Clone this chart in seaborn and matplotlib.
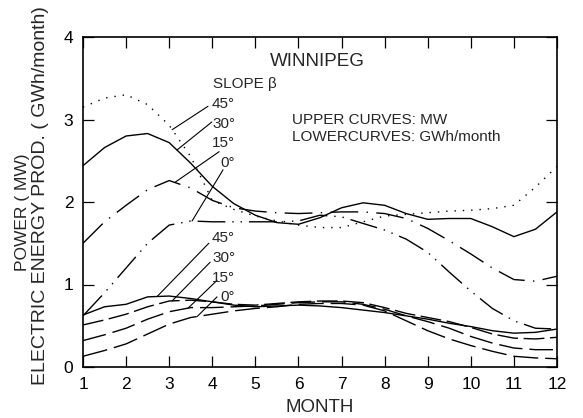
import numpy as np
import pandas as pd
import matplotlib
matplotlib.use("Agg")
import matplotlib.pyplot as plt
import seaborn as sns

# ---- data ----
months = [1, 1.5, 2, 2.5, 3, 3.5, 4, 4.5, 5, 5.5, 6, 6.5, 7, 7.5, 8, 8.5,
          9, 9.5, 10, 10.5, 11, 11.5, 12]

# upper curves: power (MW)
up45 = [3.15, 3.26, 3.30, 3.18, 2.93, 2.55, 2.02, 1.91, 1.83, 1.77, 1.72, 1.69,
        1.69, 1.76, 1.83, 1.85, 1.87, 1.89, 1.90, 1.92, 1.96, 2.18, 2.43]
up30 = [2.44, 2.66, 2.80, 2.83, 2.72, 2.47, 2.19, 1.98, 1.84, 1.75, 1.73, 1.81,
        1.93, 1.99, 1.96, 1.86, 1.79, 1.80, 1.80, 1.70, 1.58, 1.67, 1.88]
up15 = [1.50, 1.76, 1.96, 2.15, 2.26, 2.17, 2.02, 1.93, 1.89, 1.87, 1.86, 1.87,
        1.88, 1.88, 1.86, 1.80, 1.68, 1.53, 1.37, 1.20, 1.06, 1.04, 1.10]
up0 = [0.62, 0.90, 1.20, 1.50, 1.72, 1.77, 1.76, 1.76, 1.76, 1.76, 1.77, 1.84,
       1.82, 1.74, 1.66, 1.55, 1.39, 1.15, 0.92, 0.71, 0.56, 0.47, 0.46]

# lower curves: energy production (GWh/month)
low45 = [0.63, 0.73, 0.76, 0.85, 0.86, 0.83, 0.79, 0.75, 0.73, 0.74, 0.75, 0.74,
         0.72, 0.69, 0.66, 0.62, 0.58, 0.53, 0.49, 0.44, 0.41, 0.42, 0.46]
low30 = [0.51, 0.57, 0.64, 0.73, 0.80, 0.81, 0.79, 0.76, 0.75, 0.77, 0.79, 0.80,
         0.80, 0.78, 0.72, 0.65, 0.60, 0.55, 0.48, 0.40, 0.35, 0.34, 0.36]
low15 = [0.32, 0.39, 0.47, 0.58, 0.67, 0.72, 0.72, 0.73, 0.74, 0.76, 0.78, 0.79,
         0.79, 0.76, 0.70, 0.62, 0.55, 0.47, 0.37, 0.29, 0.23, 0.21, 0.21]
low0 = [0.13, 0.20, 0.28, 0.40, 0.52, 0.60, 0.64, 0.68, 0.71, 0.73, 0.76, 0.77,
        0.77, 0.75, 0.68, 0.56, 0.44, 0.34, 0.26, 0.19, 0.13, 0.11, 0.10]

slopes = ["45°", "30°", "15°", "0°"]
x_ticks = [1, 2, 3, 4, 5, 6, 7, 8, 9, 10, 11, 12]
y_ticks = [0, 1, 2, 3, 4]

series = {
    "up45": up45, "up30": up30, "up15": up15, "up0": up0,
    "low45": low45, "low30": low30, "low15": low15, "low0": low0,
}

# label positions (data coords) and where leader lines meet the curves (month)
upper_label_y = [3.19, 2.95, 2.71, 2.47]
lower_label_y = [1.56, 1.32, 1.08, 0.85]
upper_leader_from = [(3.90, 3.16), (3.99, 2.97), (4.16, 2.61), (4.25, 2.39)]
upper_leader_to_month = [3.07, 3.18, 3.13, 3.53]
lower_leader_from = [(3.92, 1.50), (3.95, 1.27), (4.11, 1.05), (4.11, 0.85)]
lower_leader_to_month = [2.72, 3.07, 3.44, 3.65]

# ---- long format table ----
rows = []
for name, vals in series.items():
    for m, v in zip(months, vals):
        rows.append({"month": m, "value": v, "curve": name})
df = pd.DataFrame(rows)

dashes = {
    "up45": (1, 5),
    "up30": "",
    "up15": (20, 6, 1, 6),
    "up0": (20, 5, 1, 5, 1, 5),
    "low45": "",
    "low30": (15, 4),
    "low15": (17, 5),
    "low0": (18, 5),
}

sns.set_style("ticks")
plt.rcParams["font.family"] = ["Liberation Sans", "DejaVu Sans"]

W, H = 583, 418
fig = plt.figure(figsize=(W / 100, H / 100), dpi=100)
ax = fig.add_axes([83 / W, 51 / H, 474 / W, 330 / H])

sns.lineplot(data=df, x="month", y="value", style="curve", dashes=dashes,
             color="black", linewidth=1.0, estimator=None, legend=False,
             ax=ax)

ax.set_xlim(1, 12)
ax.set_ylim(0, 4)
ax.set_xticks(x_ticks)
ax.set_yticks(y_ticks)
ax.tick_params(direction="in", length=8, width=0.9, top=True, right=True,
               labelsize=12.5, color="black", labelcolor="black")
ax.tick_params(axis="x", pad=7)
ax.tick_params(axis="y", pad=7)
for s in ax.spines.values():
    s.set_linewidth(1.2)
    s.set_color("black")

ax.set_xlabel("MONTH", fontsize=13.5, labelpad=5)
ax.set_ylabel("")
fig.text(23 / W, 1 - 212 / H, "POWER ( MW)", rotation=90, ha="center",
         va="center", fontsize=12.5)
fig.text(41 / W, 1 - 196 / H, "ELECTRIC ENERGY PROD. ( GWh/month)",
         rotation=90, ha="center", va="center", fontsize=14)

# annotations
ax.text(6.45, 3.70, "WINNIPEG", ha="center", va="center", fontsize=13.5)
ax.text(4.02, 3.43, "SLOPE β", ha="left", va="center", fontsize=11)
ax.text(5.85, 2.99, "UPPER CURVES: MW", ha="left", va="center", fontsize=11)
ax.text(5.85, 2.79, "LOWERCURVES: GWh/month", ha="left", va="center",
        fontsize=11)

up_keys = ["up45", "up30", "up15", "up0"]
low_keys = ["low45", "low30", "low15", "low0"]
for lab, yl, (x0, y0), mt, key in zip(slopes, upper_label_y, upper_leader_from,
                                      upper_leader_to_month, up_keys):
    ax.text(4.53, yl, lab, ha="right", va="center", fontsize=11)
    yt = np.interp(mt, months, series[key])
    ax.plot([x0, mt], [y0, yt], color="black", lw=0.8)
for lab, yl, (x0, y0), mt, key in zip(slopes, lower_label_y, lower_leader_from,
                                      lower_leader_to_month, low_keys):
    ax.text(4.53, yl, lab, ha="right", va="center", fontsize=11)
    yt = np.interp(mt, months, series[key])
    ax.plot([x0, mt], [y0, yt], color="black", lw=0.8)

fig.savefig("out.png", dpi=100)
